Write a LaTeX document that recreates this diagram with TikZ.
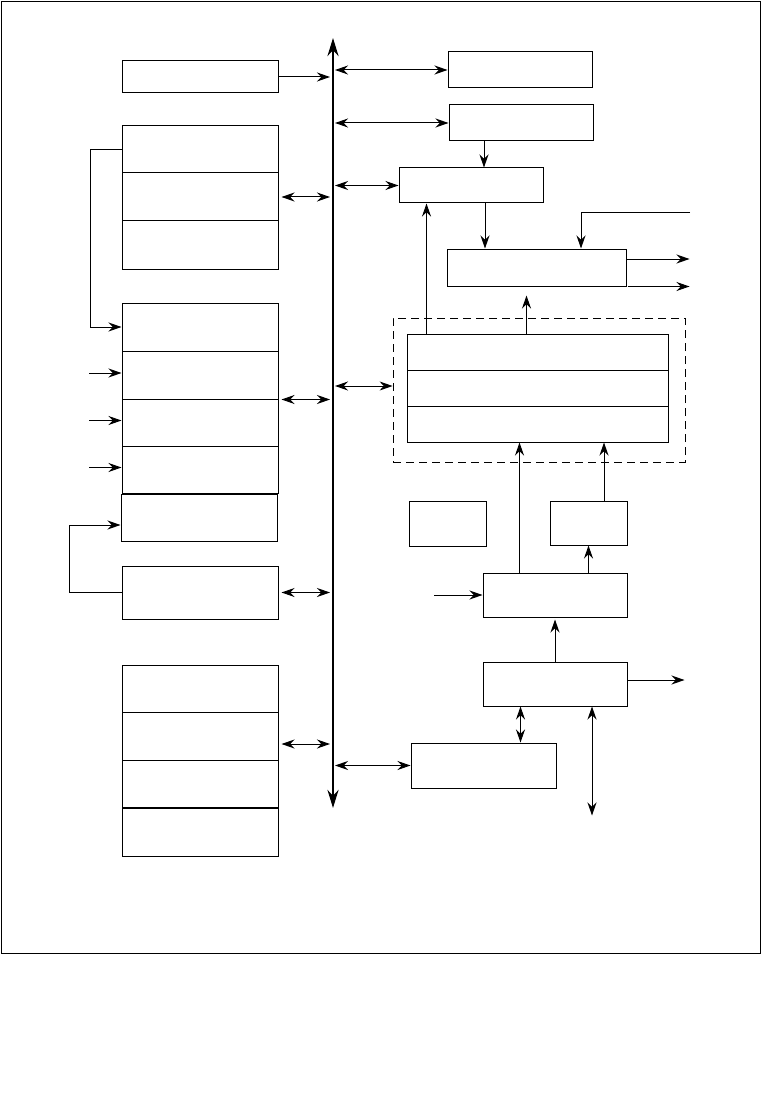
\documentclass[tikz,border=0pt]{standalone}
\usepackage{tikz}
\usetikzlibrary{arrows.meta,calc,positioning}

\begin{document}
\begin{tikzpicture}[>={Stealth[length=13pt,width=9pt]}, x=1pt, y=-1pt,
    blk/.style={draw, line width=1pt, inner sep=0pt, minimum width=156pt},
    wire/.style={line width=1pt},
    busline/.style={line width=2.6pt, {Stealth[length=18pt,width=11pt]}-{Stealth[length=18pt,width=11pt]}}]
    \useasboundingbox (0,0) rectangle (761,1107);

    % Outer frame
    \draw[line width=0.8pt] (1,1) rectangle (760,953);

    % System bus
    \coordinate (busT) at (333,38);
    \coordinate (busB) at (333,808);
    \coordinate (bus) at (333,0);
    \draw[busline] (busT) -- (busB);

    % Left column
    \node[blk, minimum height=32pt] (A) at (200,77) {};
    \node[blk, minimum height=47pt] (B1) at (200,149.5) {};
    \node[blk, minimum height=48pt] (B2) at (200,197) {};
    \node[blk, minimum height=48pt] (B3) at (200,245) {};
    \node[blk, minimum height=48pt] (C1) at (200,327) {};
    \node[blk, minimum height=48pt] (C2) at (200,375) {};
    \node[blk, minimum height=47pt] (C3) at (200,422.5) {};
    \node[blk, minimum height=47pt] (C4) at (200,469.5) {};
    \node[blk, minimum height=47pt] (D) at (199,517.5) {};
    \node[blk, minimum height=53pt] (E) at (200,592.5) {};
    \node[blk, minimum height=47pt] (F1) at (200,688.5) {};
    \node[blk, minimum height=48pt] (F2) at (200,736) {};
    \node[blk, minimum height=47pt] (F3) at (200,783.5) {};
    \node[blk, minimum height=48pt] (F4) at (200,832) {};

    % Left column to bus
    \draw[wire, ->, shorten >=3pt] (A.east) -- (A.east -| bus);
    \draw[wire, <->, shorten <=3pt, shorten >=3pt] (B2.east) -- (B2.east -| bus);
    \draw[wire, <->, shorten <=3pt, shorten >=3pt] (C2.south east) -- (C2.south east -| bus);
    \draw[wire, <->, shorten <=3pt, shorten >=3pt] (E.east) -- (E.east -| bus);
    \coordinate (fB) at ([yshift=-8pt]F2.east);
    \draw[wire, <->, shorten <=3pt, shorten >=3pt] (fB) -- (fB -| bus);

    % Feedback lines and inputs on the left
    \draw[wire, ->] (B1.west) -- ++(-31,0) |- (C1.west);
    \foreach \c in {C2,C3,C4}
        \draw[wire, <-] ([yshift=2pt]\c.west) -- ++(-33,0);
    \draw[wire, ->] (E.west) -- ++(-52,0) |- ([yshift=-7.5pt]D.west);

    % Right column
    \node[blk, minimum width=144pt, minimum height=36pt] (G) at (520,70) {};
    \node[blk, minimum width=144pt, minimum height=36pt] (H) at (521,123) {};
    \node[blk, minimum width=144pt, minimum height=35pt] (I) at (471,185.5) {};
    \node[blk, minimum width=179pt, minimum height=37pt] (J) at (536.5,267.5) {};
    \node[draw, line width=0.8pt, dash pattern=on 8pt off 5pt, inner sep=0pt,
          minimum width=292pt, minimum height=144pt] (dash) at (539,390) {};
    \node[blk, minimum width=261pt, minimum height=36pt] (K1) at (537.5,352) {};
    \node[blk, minimum width=261pt, minimum height=36pt] (K2) at (537.5,388) {};
    \node[blk, minimum width=261pt, minimum height=36pt] (K3) at (537.5,424) {};
    \node[blk, minimum width=77pt, minimum height=45pt] (L) at (447.5,523.5) {};
    \node[blk, minimum width=77pt, minimum height=44pt] (M) at (588.5,523) {};
    \node[blk, minimum width=144pt, minimum height=44pt] (P) at (555,595) {};
    \node[blk, minimum width=144pt, minimum height=44pt] (Q) at (555,684) {};
    \node[blk, minimum width=145pt, minimum height=45pt] (R) at (483.5,765.5) {};

    % Bus to right column
    \coordinate (dB) at ([yshift=4pt]dash.west);
    \draw[wire, <->, shorten <=2pt] (G.west -| bus) -- (G.west);
    \draw[wire, <->, shorten <=2pt] (H.west -| bus) -- (H.west);
    \draw[wire, <->, shorten <=2pt] (I.west -| bus) -- (I.west);
    \draw[wire, <->, shorten <=2pt] (dB -| bus) -- (dB);
    \draw[wire, <->, shorten <=2pt] (R.west -| bus) -- (R.west);

    % Data paths
    \coordinate (hI) at ([xshift=-37pt]H.south);
    \draw[wire, ->] (hI) -- (hI |- I.north);
    \coordinate (iJ) at ([xshift=14pt]I.south);
    \draw[wire, ->] (iJ) -- (iJ |- J.north);
    \coordinate (jIn) at (690,213);
    \draw[wire, ->] (jIn) -| ([xshift=44.5pt]J.north);
    \draw[wire, ->] ([yshift=8.5pt]J.east) -- ++(63,0);
    \draw[wire, ->] ([xshift=1pt]J.south east) -- ++(62,0);

    \coordinate (kI) at ([xshift=20pt]K1.north west);
    \draw[wire, ->] (kI) -- (kI |- I.south);
    \coordinate (kJ) at ([xshift=120pt]K1.north west);
    \draw[wire, ->, shorten >=9pt] (kJ) -- (kJ |- J.south);

    \coordinate (pK) at ([xshift=37pt]P.north west);
    \draw[wire, ->] (pK) -- (pK |- K3.south);
    \coordinate (mK) at ([xshift=15.5pt]M.north);
    \draw[wire, ->] (mK) -- (mK |- K3.south);
    \draw[wire, ->] (M.south |- P.north) -- (M.south);
    \draw[wire, <-] (P.west) -- ++(-49,0);

    \draw[wire, ->, shorten >=2pt] (Q.north) -- (P.south);
    \draw[wire, ->] ([yshift=4pt]Q.east) -- ++(57,0);
    \coordinate (rQ) at ([xshift=37pt]R.north);
    \draw[wire, <->] (rQ) -- (rQ |- Q.south);
    \coordinate (qD) at ([xshift=37pt]Q.south);
    \draw[wire, <->] (qD) -- ++(0,109);

\end{tikzpicture}
\end{document}
